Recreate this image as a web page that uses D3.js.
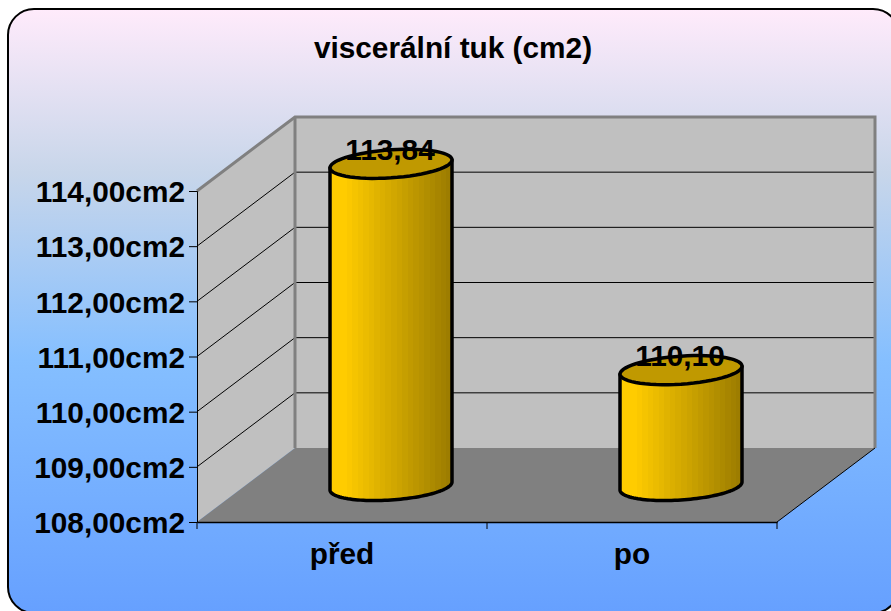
<!DOCTYPE html>
<html>
<head>
<meta charset="utf-8">
<script src="https://cdn.jsdelivr.net/npm/d3@7"></script>
<style>
  html, body { margin: 0; padding: 0; background: #fff; overflow: hidden; }
  svg { display: block; }
  text { font-family: "Liberation Sans", Arial, sans-serif; font-weight: bold; fill: #000; }
</style>
</head>
<body>
<script>
var categories = ["před", "po"];
var values = [113.84, 110.10];
var valueLabels = ["113,84", "110,10"];
var tickValues = [108, 109, 110, 111, 112, 113, 114];
var title = "viscerální tuk (cm2)";

var width = 891,
    height = 611;

// front plane of the fake 3d box, the back wall is this shifted by depth
var x0 = 197, x1 = 777, yBottom = 522, yTop = 191;
var depthX = 98, depthY = -74;

var x = d3.scaleBand().domain(categories).range([x0, x1]);
var y = d3.scaleLinear().domain([108, 114]).range([yBottom, yTop]);

var svg = d3.select("body").append("svg")
    .attr("width", width)
    .attr("height", height);

var defs = svg.append("defs");

var bg = defs.append("linearGradient")
    .attr("id", "bg")
    .attr("x1", 0).attr("y1", 0).attr("x2", 0).attr("y2", 1);
bg.append("stop").attr("offset", 0).attr("stop-color", "#ffebfb");
bg.append("stop").attr("offset", 0.27).attr("stop-color", "#c8d6ea");
bg.append("stop").attr("offset", 0.58).attr("stop-color", "#85bfff");
bg.append("stop").attr("offset", 1).attr("stop-color", "#66a0ff");

// stepped gold gradient, the original shows visible bands
var gold = defs.append("linearGradient")
    .attr("id", "gold")
    .attr("x1", 0).attr("y1", 0).attr("x2", 1).attr("y2", 0);
var goldColor = d3.scaleLinear().domain([0, 0.12, 1]).range(["#ffcc00", "#ffcc00", "#9a7b00"]);
var steps = 22;
d3.range(steps).forEach(function(i) {
  var c = goldColor((i + 0.5) / steps);
  gold.append("stop").attr("offset", i / steps).attr("stop-color", c);
  gold.append("stop").attr("offset", (i + 1) / steps).attr("stop-color", c);
});

svg.append("rect")
    .attr("x", 8).attr("y", 9)
    .attr("width", 891).attr("height", 604)
    .attr("rx", 26).attr("ry", 26)
    .attr("fill", "url(#bg)")
    .attr("stroke", "#000")
    .attr("stroke-width", 2);

svg.append("text")
    .attr("x", 453).attr("y", 58)
    .attr("text-anchor", "middle")
    .style("font-size", "29.8px")
    .text(title);

// walls and floor
var yb = y(108), yt = y(114);
function pts(a) { return a.map(function(p) { return p.join(","); }).join(" "); }

svg.append("polygon")
    .attr("points", pts([[x0, yb], [x0, yt], [x0 + depthX, yt + depthY], [x0 + depthX, yb + depthY]]))
    .attr("fill", "#c0c0c0");
svg.append("polygon")
    .attr("points", pts([[x0 + depthX, yb + depthY], [x0 + depthX, yt + depthY], [x1 + depthX, yt + depthY], [x1 + depthX, yb + depthY]]))
    .attr("fill", "#c0c0c0");
svg.append("polygon")
    .attr("points", pts([[x0, yb], [x0 + depthX, yb + depthY], [x1 + depthX, yb + depthY], [x1, yb]]))
    .attr("fill", "#808080");

// gridlines
var grid = svg.append("g").attr("fill", "none").attr("stroke", "#000").attr("stroke-width", 1);
tickValues.slice(1, -1).forEach(function(t) {
  grid.append("polyline")
      .attr("points", pts([[x0, y(t)], [x0 + depthX, y(t) + depthY], [x1 + depthX, y(t) + depthY]]));
});

// grey box edges
svg.append("polyline")
    .attr("points", pts([[x0, yt], [x0 + depthX, yt + depthY], [x1 + depthX, yt + depthY], [x1 + depthX, yb + depthY]]))
    .attr("fill", "none").attr("stroke", "#808080").attr("stroke-width", 3);
svg.append("line")
    .attr("x1", x0 + depthX).attr("y1", yt + depthY)
    .attr("x2", x0 + depthX).attr("y2", yb + depthY)
    .attr("stroke", "#808080").attr("stroke-width", 3);

svg.append("line")
    .attr("x1", x1).attr("y1", yb)
    .attr("x2", x1 + depthX).attr("y2", yb + depthY)
    .attr("stroke", "#000").attr("stroke-width", 1);

// axes
var yAxis = d3.axisLeft(y)
    .tickValues(tickValues)
    .tickSize(8)
    .tickPadding(4)
    .tickFormat(function(d) { return d3.format(".2f")(d).replace(".", ",") + "cm2"; });
var yG = svg.append("g").attr("transform", "translate(" + x0 + ",0)").call(yAxis);
yG.selectAll("text").attr("dy", "0.36em").style("font-size", "29.8px");
yG.selectAll("line").attr("stroke", "#000");
yG.select(".domain").attr("stroke", "#000").attr("stroke-width", 1);

var xAxis = d3.axisBottom(x).tickSize(0).tickPadding(21);
var xG = svg.append("g").attr("transform", "translate(0," + yb + ")").call(xAxis);
xG.selectAll("text").style("font-size", "29.8px");
xG.select(".domain").attr("stroke", "#000").attr("stroke-width", 1.5);

// x ticks sit between the categories
svg.selectAll(".xtick")
    .data([x0, x(categories[1]), x1])
    .enter().append("line")
    .attr("class", "xtick")
    .attr("x1", function(d) { return d; })
    .attr("x2", function(d) { return d; })
    .attr("y1", yb).attr("y2", yb + 7)
    .attr("stroke", "#000");

// cylinders, the ends are tilted ellipses
var rx = 61, tilt = -4, ry = 14;
function ellipse(cx, cy, from, to) {
  return d3.range(0, 61).map(function(i) {
    var t = from + (to - from) * i / 60;
    return [cx + rx * Math.cos(t), cy + tilt * Math.cos(t) + ry * Math.sin(t)];
  });
}
var line = d3.line();

var bars = svg.selectAll(".bar")
    .data(categories)
    .enter().append("g")
    .attr("class", "bar");

bars.each(function(c, i) {
  var g = d3.select(this);
  var cx = x(c) + x.bandwidth() / 2 + depthX / 2;
  var cyTop = y(values[i]) + depthY / 2 + 1;
  var cyBottom = y(108) + depthY / 2 + 1;
  // body: down the right side, round the front of the base, up the left
  var body = [[cx + rx, cyTop + tilt]]
      .concat(ellipse(cx, cyBottom, 0, Math.PI))
      .concat([[cx - rx, cyTop - tilt]]);
  g.append("path")
      .attr("d", line(body) + "Z")
      .attr("fill", "url(#gold)")
      .attr("stroke", "#000")
      .attr("stroke-width", 3.5)
      .attr("stroke-linejoin", "round");
  g.append("path")
      .attr("d", line(ellipse(cx, cyTop, 0, 2 * Math.PI)) + "Z")
      .attr("fill", "#c09900")
      .attr("stroke", "#000")
      .attr("stroke-width", 3.5);
  g.append("text")
      .attr("x", cx - 1)
      .attr("y", cyTop - 4)
      .attr("text-anchor", "middle")
      .style("font-size", "29.8px")
      .text(valueLabels[i]);
});
</script>
</body>
</html>
